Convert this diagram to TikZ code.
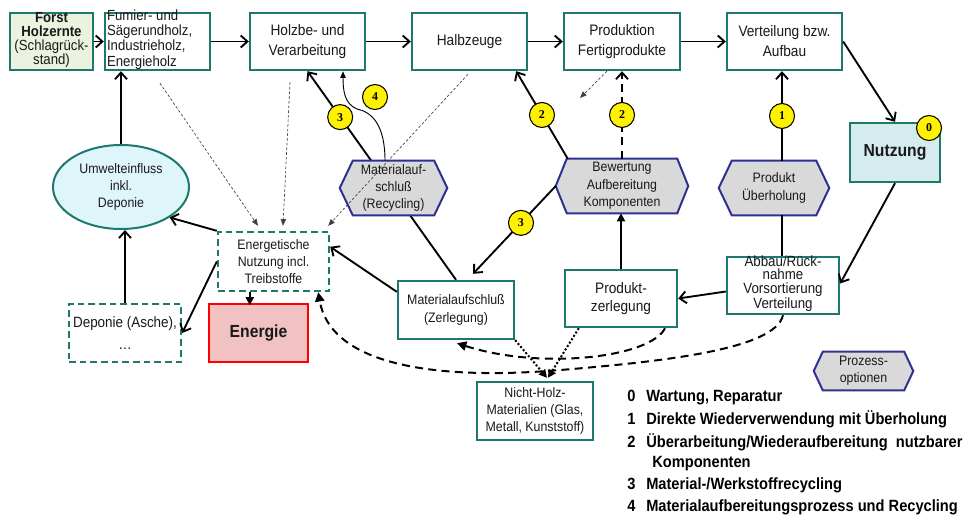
\documentclass[tikz,border=0pt]{standalone}
\usepackage{fontspec}
\setmainfont{Liberation Sans}[FakeStretch=0.9]
\newfontfamily\numfont{Liberation Serif}
\usetikzlibrary{arrows.meta,calc,shapes.geometric}
\pgfdeclarelayer{back}
\pgfdeclarelayer{mid}
\pgfsetlayers{back,mid,main}
\definecolor{tealB}{RGB}{30,120,112}
\definecolor{hexB}{RGB}{46,49,146}
\definecolor{hexF}{RGB}{217,217,217}
\definecolor{forstF}{RGB}{235,243,222}
\definecolor{nutzF}{RGB}{213,236,238}
\definecolor{umwF}{RGB}{222,246,250}
\definecolor{eneF}{RGB}{242,194,194}
\definecolor{txt}{RGB}{25,25,25}
\newcommand\fmain{\fontsize{11.4}{15}\selectfont}
\newcommand\fsmall{\fontsize{10.3}{13}\selectfont}
\newcommand\hexpath[2]{\path[hexd] (#1.west) -- ($(#1.north west)+(#2,0)$) -- ($(#1.north east)+(-#2,0)$) -- (#1.east) -- ($(#1.south east)+(-#2,0)$) -- ($(#1.south west)+(#2,0)$) -- cycle;}
\begin{document}
\begin{tikzpicture}[x=0.75pt,y=-0.75pt,
  sz/.style 2 args={minimum width=#1*0.75pt,minimum height=#2*0.75pt},
  bx/.style={draw=tealB,line width=1.8pt,fill=white,align=center,inner sep=1pt,text=txt},
  dbx/.style={bx,dash pattern=on 5pt off 3pt},
  txtn/.style={align=center,inner sep=0pt,text=txt},
  hexn/.style={align=center,inner sep=0pt,text=txt},
  hexd/.style={draw=hexB,fill=hexF,line width=1.5pt},
  num/.style={circle,solid,draw=black,fill=yellow,line width=0.8pt,minimum size=18.75pt,inner sep=0pt,text=black,font=\numfont\bfseries\fontsize{9}{9}\selectfont},
  conn/.style={draw=black,line width=1.4pt,-{Straight Barb[length=5pt,width=9pt]}},
  tri/.style={draw=black,line width=1.4pt,-{Triangle[length=6pt,width=6pt]}},
  plain/.style={draw=black,line width=1.4pt},
  thinfour/.style={draw=black,line width=0.7pt,-{Triangle[length=5pt,width=4pt]}},
  tdash/.style={draw=black!75,line width=0.5pt,dash pattern=on 2pt off 1.5pt,-{Triangle[length=5pt,width=4pt]}},
  bdash/.style={draw=black,line width=1.5pt,dash pattern=on 6pt off 4pt,-{Triangle[length=7pt,width=7pt]}},
  bdot/.style={draw=black,line width=1.5pt,dash pattern=on 1.5pt off 1.5pt,-{Triangle[length=6pt,width=6pt]}},
  leg/.style={inner sep=0pt,anchor=base west,text=black,font=\bfseries\fontsize{12.2}{14}\selectfont}
]
\useasboundingbox (0,0) rectangle (963,518);

% top row
\node[bx,sz={83}{57},fill=forstF] (forst) at (51.5,41.5) {};
\node[txtn,font=\fontsize{11}{10.5}\selectfont] (forstT) at ($(forst)+(0,-1.5)$) {\textbf{Forst}\\\textbf{Holzernte}\\(Schlagrück-\\stand)};
\node[bx,sz={105}{57}] (fum) at (157.5,41.5) {};
\node[txtn,align=left,anchor=west,font=\fontsize{11}{11.5}\selectfont] (fumT) at ($(fum.west)+(3,-2)$) {Fumier- und\\Sägerundholz,\\Industrieholz,\\Energieholz};
\node[bx,sz={115}{57},font=\fmain] (holz) at (307.5,41.5) {Holzbe- und\\Verarbeitung};
\node[bx,sz={115}{57},font=\fmain] (halb) at (469.5,41.5) {Halbzeuge};
\node[bx,sz={116}{57},font=\fmain] (prod) at (622,41.5) {Produktion\\Fertigprodukte};
\node[bx,sz={115}{57},font=\fmain] (vert) at (784.5,41.5) {Verteilung bzw.\\Aufbau};
\node[bx,sz={90}{59},fill=nutzF,font=\bfseries\fontsize{13.1}{15}\selectfont] (nutz) at (895,152.5) {Nutzung};

% left part
\node[ellipse,draw=tealB,line width=1.5pt,fill=umwF,sz={136}{84},inner sep=0pt,align=center,text=txt,font=\fsmall] (umw) at (121,187) {Umwelteinfluss\\inkl.\\Deponie};
\node[dbx,sz={111}{59},font=\fsmall] (ener) at (273.5,261.5) {Energetische\\Nutzung incl.\\Treibstoffe};
\node[bx,draw=red,fill=eneF,sz={99}{58},font=\bfseries\fontsize{13.1}{15}\selectfont] (ene) at (258.5,333) {Energie};
\node[dbx,sz={112}{58},font=\fontsize{11.2}{17}\selectfont] (dep) at (125,333) {Deponie (Asche),\\\dots};

% hexagon nodes
\node[hexn,sz={107}{54},font=\fsmall] (rec) at (393.5,188) {Materialauf-\\schluß\\(Recycling)};
\node[hexn,sz={132}{54},font=\fsmall] (bew) at (622,186) {Bewertung\\Aufbereitung\\Komponenten};
\node[hexn,sz={110}{54},font=\fsmall] (ueb) at (774,188) {Produkt\\Überholung};
\node[hexn,sz={99}{38},font=\fsmall] (proz) at (863.5,371) {Prozess-\\optionen};

% lower boxes
\node[bx,sz={116}{58},font=\fsmall] (zer) at (456,310) {Materialaufschluß\\(Zerlegung)};
\node[bx,sz={112}{57},font=\fontsize{11.4}{13}\selectfont] (pz) at (621,298.5) {Produkt-\\zerlegung};
\node[bx,sz={112}{57}] (abbau) at (783,285.5) {};
\node[txtn,font=\fontsize{11.1}{10.3}\selectfont] (abbauT) at ($(abbau)+(0,-2)$) {Abbau/Rück-\\nahme\\Vorsortierung\\Verteilung};
\node[bx,sz={116}{58},font=\fsmall] (nh) at (535,411) {Nicht-Holz-\\Materialien (Glas,\\Metall, Kunststoff)};

\begin{pgfonlayer}{mid}
\hexpath{rec}{13}
\hexpath{bew}{11}
\hexpath{ueb}{13}
\hexpath{proz}{9}
\end{pgfonlayer}

% main flow
\draw[conn] (forst) -- (fum);
\draw[conn] (fum) -- (holz);
\draw[conn] (holz) -- (halb);
\draw[conn] (halb) -- (prod);
\draw[conn] (prod) -- (vert);
\draw[conn] (vert.east) -- (nutz.north);
\node[num] (c0) at (929,128) {0};
\draw[conn] (nutz.south) -- ($(abbau.east)+(0,-2)$);
\draw[conn] ($(abbau.west)+(0,6)$) -- (pz.east);
\draw[tri] (pz.north) -- (pz.north |- bew.south);

% option 1
\draw[plain] ($(abbau.north)+(-1,0)$) -- ($(abbau.north |- ueb.south)+(-1,0)$);
\draw[conn] ($(abbau.north |- ueb.north)+(-1,0)$) -- node[num] (c1) {1} ($(abbau.north |- vert.south)+(-1,0)$);

% option 2
\draw[conn] ($(bew.north west)+(12,0)$) -- node[num] (c2a) {2} ($(halb.south east)+(-12,0)$);
\draw[conn,dash pattern=on 6pt off 4pt] (bew.north) -- node[num] (c2b) {2} (prod.south);

% option 3
\draw[conn] (bew.west) -- node[num,pos=0.42] (c3a) {3} ($(zer.north)+(17,-6)$);
\begin{pgfonlayer}{back}
\draw[conn] (zer.north) -- node[num,pos=0.78] (c3b) {3} (holz.south);
\end{pgfonlayer}

% option 4
\coordinate (w4) at (357,109);
\draw[thinfour] ($(rec.north)+(-8.5,0)$) .. controls (385,125) and (372,112) .. (w4) .. controls (345,104) and (343,92) .. ($(holz.south)+(35.5,0)$);
\node[num] (c4) at (375,97) {4};

% energy side
\draw[conn] ($(zer.north west)+(0,12)$) -- ($(ener.north east)+(0,16)$);
\draw[conn] (ener.north west) -- (umw.-32);
\draw[conn] (ener.west) -- (dep.east);
\draw[tri] ($(ener.south west)+(33,0)$) -- ($(ener.south west)+(33,13)$);
\draw[conn] (dep.north) -- (dep.north |- umw.south);
\draw[conn] (umw.north) -- (umw.north |- fum.south);

% thin dashed
\coordinate (p1) at (580,98);
\draw[tdash] ($(fum.south)+(2.5,12)$) -- ($(ener.north)+(-15.5,-5)$);
\draw[tdash] ($(holz.south)+(-17.5,11)$) -- ($(ener.north)+(9.5,-5)$);
\draw[tdash] ($(halb.south)+(-1.5,3)$) -- ($(ener.north east)+(-2,-5)$);
\draw[tdash] ($(prod.south)+(-15,0)$) -- (p1);

% thick dashed curves
\coordinate (k1) at (548,371);
\draw[bdash] (abbau.south) .. controls (775,350) and (660,362) .. (k1) .. controls (420,380) and (330,360) .. ($(ener.south east)+(-12,0)$);
\draw[bdash] ($(pz.south)+(44,0)$) .. controls (650,358) and (540,370) .. ($(zer.south)+(1,3)$);

% dotted
\draw[bdot] (zer.south east) -- ($(nh.north)+(12,-3)$);
\draw[bdot] ($(pz.south west)+(15,0)$) -- ($(nh.north)+(13,-3)$);

% legend
\node[leg] (n0) at (627,401) {0};
\node[leg] (t0) at (646,401) {Wartung, Reparatur};
\node[leg] (n1) at (627,424) {1};
\node[leg] (t1) at (646,424) {Direkte Wiederverwendung mit Überholung};
\node[leg] (n2) at (627,447) {2};
\node[leg] (t2) at (646,447) {Überarbeitung/Wiederaufbereitung\ \ nutzbarer};
\node[leg] (t2b) at (652,467) {Komponenten};
\node[leg] (n3) at (627,489) {3};
\node[leg] (t3) at (646,489) {Material-/Werkstoffrecycling};
\node[leg] (n4) at (627,511) {4};
\node[leg] (t4) at (646,511) {Materialaufbereitungsprozess und Recycling};
\end{tikzpicture}
\end{document}
